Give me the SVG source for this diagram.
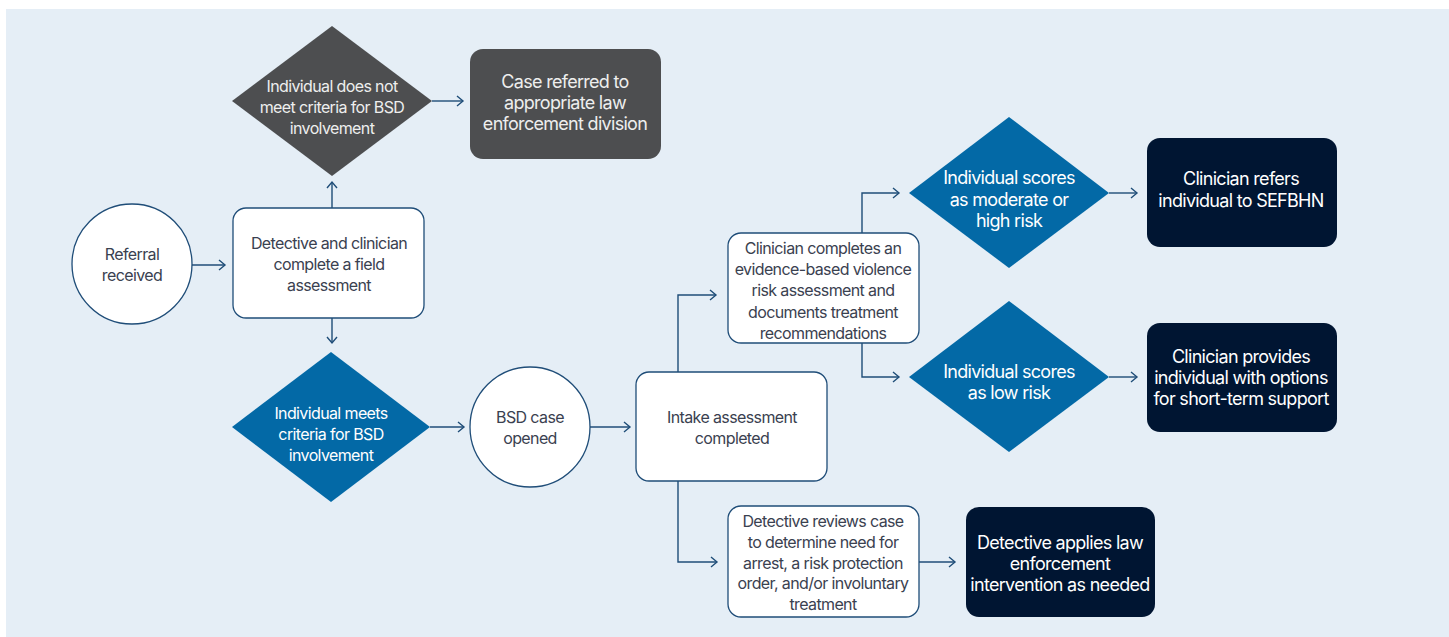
<svg xmlns="http://www.w3.org/2000/svg" width="1449" height="637" viewBox="0 0 1449 637">
<style>
text{font-family:Inter,"Liberation Sans",sans-serif;text-anchor:middle;dominant-baseline:central}
.sm{font-size:16px;letter-spacing:-0.62px}
.lg{font-size:18px;letter-spacing:-0.7px}
.dk{fill:#3A4150}
.wt{fill:#FFFFFF}
.lt{fill:#EEEEEE}
.box{fill:#FFFFFF;stroke:#1F4D78;stroke-width:1.3}
.gray{fill:#4D4E50}
.navy{fill:#001532}
.blue{fill:#0369A6}
.con{fill:none;stroke:#1F4D78;stroke-width:1.4}
</style>
<defs>
<marker id="ah" markerUnits="userSpaceOnUse" markerWidth="10" markerHeight="12" viewBox="0 0 10 12" refX="8" refY="6" orient="auto">
<path d="M2,1 L8,6 L2,11" fill="none" stroke="#1F4D78" stroke-width="1.4"/>
</marker>
</defs>
<rect x="6" y="9" width="1443" height="628" fill="#E5EEF6"/>
<g id="connectors">
<path class="con" marker-end="url(#ah)" d="M192,265 H225"/>
<path class="con" marker-end="url(#ah)" d="M332,208 V182"/>
<path class="con" marker-end="url(#ah)" d="M432,101 H463"/>
<path class="con" marker-end="url(#ah)" d="M332,318 V343"/>
<path class="con" marker-end="url(#ah)" d="M430,427 H464"/>
<path class="con" marker-end="url(#ah)" d="M590,427 H630"/>
<path class="con" marker-end="url(#ah)" d="M678,372 V295 H716"/>
<path class="con" marker-end="url(#ah)" d="M862,233 V193 H899"/>
<path class="con" marker-end="url(#ah)" d="M862,343 V377 H899"/>
<path class="con" marker-end="url(#ah)" d="M1109,193 H1137"/>
<path class="con" marker-end="url(#ah)" d="M1109,377 H1137"/>
<path class="con" marker-end="url(#ah)" d="M678,481 V562 H717"/>
<path class="con" marker-end="url(#ah)" d="M919,562 H955"/>
</g>
<g id="referral">
<circle class="box" cx="132" cy="264" r="60"/>
<text class="sm dk" x="132" y="254">Referral</text>
<text class="sm dk" x="132" y="275">received</text>
</g>
<g id="field">
<rect class="box" x="233" y="208" width="191" height="110" rx="13"/>
<text class="sm dk" x="329" y="243">Detective and clinician</text>
<text class="sm dk" x="329" y="264">complete a field</text>
<text class="sm dk" x="329" y="285">assessment</text>
</g>
<g id="not-meet">
<polygon class="gray" points="332,26 432,101 332,176 232,101"/>
<text class="sm lt" x="332" y="86">Individual does not</text>
<text class="sm lt" x="332" y="107">meet criteria for BSD</text>
<text class="sm lt" x="332" y="128">involvement</text>
</g>
<g id="referred">
<rect class="gray" x="470" y="49" width="191" height="110" rx="13"/>
<text class="lg lt" x="565" y="81">Case referred to</text>
<text class="lg lt" x="565" y="102">appropriate law</text>
<text class="lg lt" x="565" y="123">enforcement division</text>
</g>
<g id="meets">
<polygon class="blue" points="331,352 430,427 331,502 232,427"/>
<text class="sm wt" x="331" y="413">Individual meets</text>
<text class="sm wt" x="331" y="434">criteria for BSD</text>
<text class="sm wt" x="331" y="455">involvement</text>
</g>
<g id="bsd-opened">
<circle class="box" cx="530" cy="427" r="60"/>
<text class="sm dk" x="530" y="417">BSD case</text>
<text class="sm dk" x="530" y="438">opened</text>
</g>
<g id="intake">
<rect class="box" x="636" y="372" width="191" height="109" rx="13"/>
<text class="sm dk" x="732" y="417">Intake assessment</text>
<text class="sm dk" x="732" y="438">completed</text>
</g>
<g id="clinician-assess">
<rect class="box" x="728" y="233" width="191" height="110" rx="13"/>
<text class="sm dk" x="823" y="248">Clinician completes an</text>
<text class="sm dk" x="823" y="269">evidence-based violence</text>
<text class="sm dk" x="823" y="290">risk assessment and</text>
<text class="sm dk" x="823" y="312">documents treatment</text>
<text class="sm dk" x="823" y="333">recommendations</text>
</g>
<g id="moderate">
<polygon class="blue" points="1009,117 1109,193 1009,268 909,193"/>
<text class="lg wt" x="1009" y="177">Individual scores</text>
<text class="lg wt" x="1009" y="199">as moderate or</text>
<text class="lg wt" x="1009" y="220">high risk</text>
</g>
<g id="low">
<polygon class="blue" points="1009,301 1109,377 1009,452 909,377"/>
<text class="lg wt" x="1009" y="371">Individual scores</text>
<text class="lg wt" x="1009" y="392">as low risk</text>
</g>
<g id="refers">
<rect class="navy" x="1147" y="138" width="190" height="109" rx="13"/>
<text class="lg wt" x="1241" y="178">Clinician refers</text>
<text class="lg wt" x="1241" y="200">individual to SEFBHN</text>
</g>
<g id="provides">
<rect class="navy" x="1147" y="323" width="190" height="109" rx="13"/>
<text class="lg wt" x="1241" y="356">Clinician provides</text>
<text class="lg wt" x="1241" y="377">individual with options</text>
<text class="lg wt" x="1241" y="398">for short-term support</text>
</g>
<g id="detective-review">
<rect class="box" x="728" y="506" width="191" height="111" rx="13"/>
<text class="sm dk" x="823" y="521">Detective reviews case</text>
<text class="sm dk" x="823" y="542">to determine need for</text>
<text class="sm dk" x="823" y="563">arrest, a risk protection</text>
<text class="sm dk" x="823" y="583">order, and/or involuntary</text>
<text class="sm dk" x="823" y="604">treatment</text>
</g>
<g id="applies">
<rect class="navy" x="966" y="507" width="189" height="110" rx="13"/>
<text class="lg wt" x="1060" y="542">Detective applies law</text>
<text class="lg wt" x="1060" y="563">enforcement</text>
<text class="lg wt" x="1060" y="584">intervention as needed</text>
</g>
</svg>
